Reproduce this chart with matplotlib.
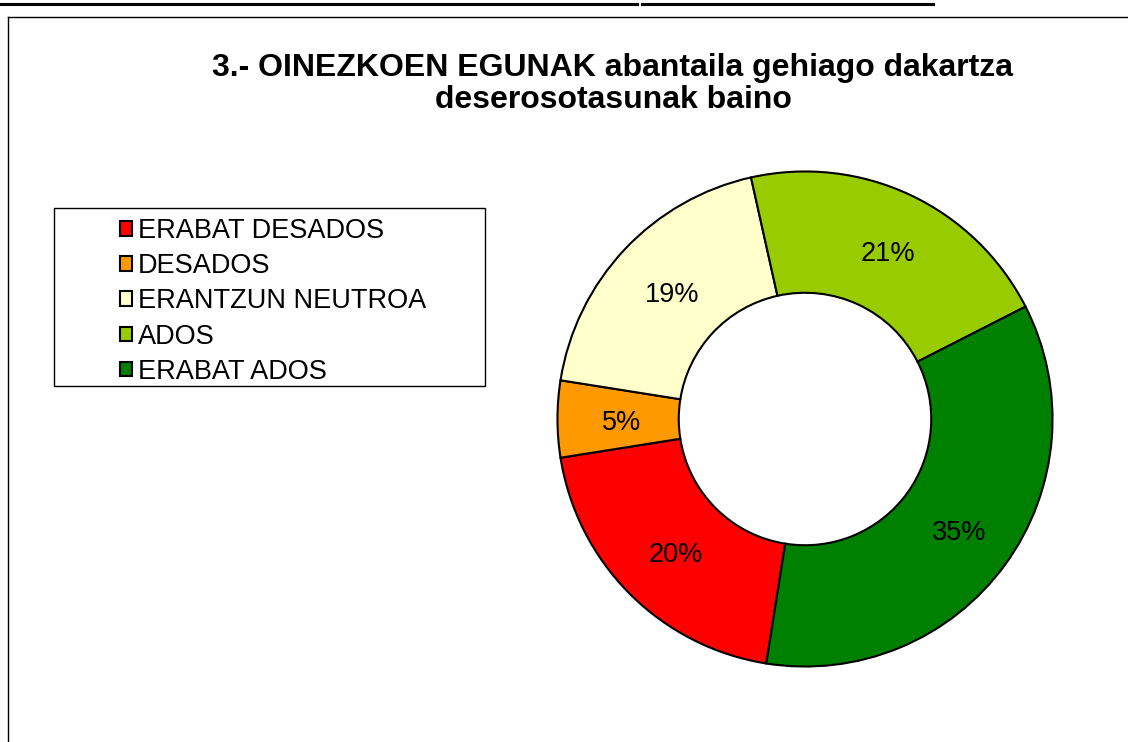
import matplotlib.pyplot as plt
import matplotlib.transforms as mtransforms
from matplotlib.patches import Patch, Rectangle
from matplotlib.lines import Line2D

plt.rcParams['font.family'] = ['Liberation Sans', 'DejaVu Sans']

# datuak
kategoriak = ['ERABAT DESADOS', 'DESADOS', 'ERANTZUN NEUTROA', 'ADOS', 'ERABAT ADOS']
balioak = [20, 5, 19, 21, 35]
koloreak = ['#FF0000', '#FF9900', '#FFFFCC', '#99CC00', '#008000']
izenburua = '3.- OINEZKOEN EGUNAK abantaila gehiago dakartza\ndeserosotasunak baino'

W, H = 1128, 742
fig = plt.figure(figsize=(W / 100, H / 100), dpi=100)

def fx(px):
    return px / W

def fy(py):
    return 1 - py / H

# moztutako goiburuaren azpimarrak
fig.add_artist(Line2D([fx(0), fx(637)], [fy(4), fy(4)], color='black', lw=2.2))
fig.add_artist(Line2D([fx(642), fx(933)], [fy(4), fy(4)], color='black', lw=2.2))

# grafikoaren markoa
fig.add_artist(Line2D([fx(8), fx(8)], [fy(17), 0], color='black', lw=1))
fig.add_artist(Line2D([fx(8), 1], [fy(17), fy(17)], color='black', lw=1))

fig.text(fx(613), fy(84), izenburua, ha='center', va='center',
         fontsize=23, fontweight='bold', linespacing=1.12)

# donut
cx, cy, r = 805, 419, 250
ax = fig.add_axes([fx(cx - r), fy(cy + r), 2 * r / W, 2 * r / H])
wedges, _, autotexts = ax.pie(balioak, colors=koloreak, startangle=261, counterclock=False,
                              autopct='%.0f%%', pctdistance=0.755,
                              wedgeprops=dict(width=0.49, edgecolor='black', linewidth=1.5),
                              textprops=dict(fontsize=19.5, color='black'))
for t in autotexts:
    t.set_transform(mtransforms.offset_copy(ax.transData, fig=fig, x=3, y=-4, units='dots'))
ax.set_xlim(-1.01, 1.01)
ax.set_ylim(-1.01, 1.01)
ax.set_aspect('equal')

# legenda
fig.add_artist(Rectangle((fx(54), fy(386)), fx(485) - fx(54), fy(208) - fy(386),
                         transform=fig.transFigure, fill=False, edgecolor='black', lw=1))
eskuak = [Patch(facecolor=c, edgecolor='black', linewidth=1.5) for c in koloreak]
fig.legend(eskuak, kategoriak, loc='upper left', bbox_to_anchor=(fx(120), fy(218)),
           frameon=False, fontsize=19.5, handlelength=0.45, handleheight=0.45,
           handletextpad=0.22, labelspacing=0.34, borderaxespad=0, borderpad=0)

fig.savefig('out.png', dpi=100)
